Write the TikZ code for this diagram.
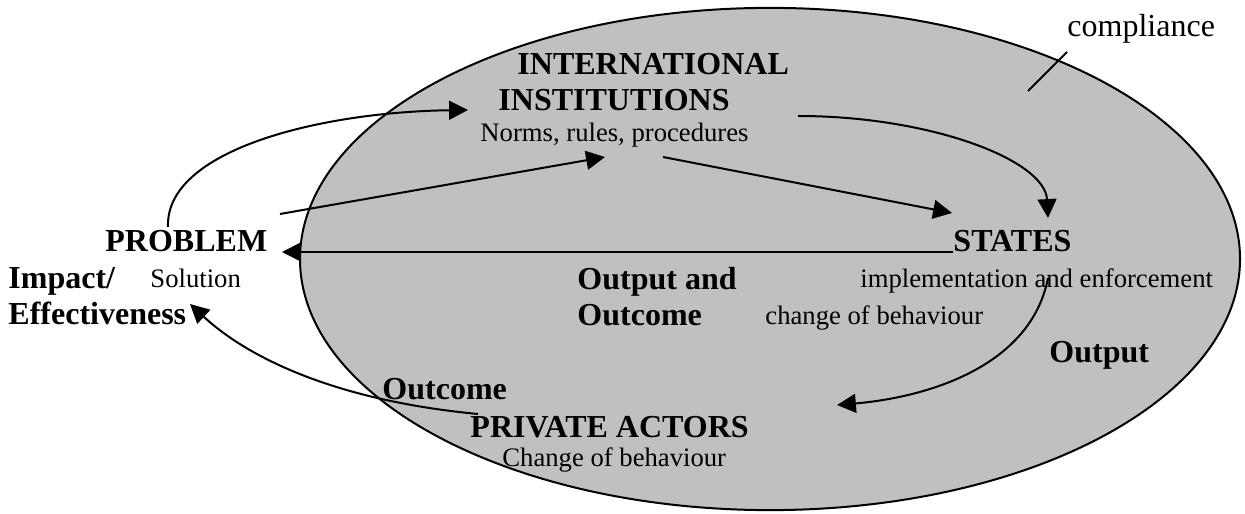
\documentclass[tikz,border=0pt]{standalone}
\usepackage{fontspec}
\setmainfont{Liberation Serif}
\usetikzlibrary{arrows.meta,shapes.geometric}
\definecolor{ellgray}{RGB}{192,192,192}
\begin{document}
\begin{tikzpicture}[x=0.45pt,y=-0.45pt,
  norm/.style={anchor=base west,inner sep=0pt,font=\fontsize{12}{14}\selectfont},
  bold/.style={anchor=base west,inner sep=0pt,font=\fontsize{14.4}{17}\selectfont\bfseries},
  conn/.style={line width=0.9pt,-{Triangle[length=8.5pt,width=8.5pt]}},
  plain/.style={line width=0.9pt}]
\useasboundingbox (0,0) rectangle (1245,514);
% ellipse
\node[draw,line width=0.9pt,fill=ellgray,ellipse,minimum width=423pt,minimum height=226pt,inner sep=0pt] (ell) at (770,259) {};
% texts
\node[norm,font=\fontsize{14.4}{17}\selectfont] (compl) at (1067,37) {compliance};
\node[bold] (intl) at (517,75) {INTERNATIONAL};
\node[bold] (inst) at (498,111) {INSTITUTIONS};
\node[norm] (norms) at (480,142) {Norms, rules, procedures};
\node[bold] (prob) at (105,252) {PROBLEM};
\node[norm] (sol) at (150,288) {Solution};
\node[bold] (impact) at (8,289) {Impact/};
\node[bold] (eff) at (8,325) {Effectiveness};
\node[bold] (outand) at (577,290) {Output and};
\node[bold] (outc) at (577,326) {Outcome};
\node[norm] (chg) at (765,325) {change of behaviour};
\node[norm] (impl) at (860,288) {implementation and enforcement};
\node[bold] (states) at (953,252) {STATES};
\node[bold] (outp) at (1049,363) {Output};
\node[bold] (outc2) at (382,400) {Outcome};
\node[bold] (priv) at (470,437) {PRIVATE ACTORS};
\node[norm] (chg2) at (502,466) {Change of behaviour};
% connector endpoints
\coordinate (c1s) at (1067,52);
\coordinate (c1e) at (1028,91);
\coordinate (a1s) at (168,227);
\coordinate (a1e) at (468,110);
\coordinate (a2s) at (280,214);
\coordinate (a2e) at (605,157);
\coordinate (a3s) at (663,157);
\coordinate (a3e) at (952,213);
\coordinate (a4s) at (798,116);
\coordinate (a4e) at (1048,218);
\coordinate (a5s) at (953,252);
\coordinate (a5e) at (282,252);
\coordinate (a6s) at (1048,278);
\coordinate (a6e) at (837,405);
\coordinate (a7s) at (478,414);
\coordinate (a7e) at (190,304);
% connectors
\draw[plain] (c1s) -- (c1e);
\draw[conn] (a1s) .. controls (165,150) and (320,112) .. (a1e);
\draw[conn] (a2s) -- (a2e);
\draw[conn] (a3s) -- (a3e);
\draw[conn] (a4s) .. controls (930,116) and (1045,160) .. (a4e);
\draw[conn] (a5s) -- (a5e);
\draw[conn] (a6s) .. controls (1030,370) and (920,398) .. (a6e);
\draw[conn] (a7s) .. controls (330,400) and (245,355) .. (a7e);
\end{tikzpicture}
\end{document}
